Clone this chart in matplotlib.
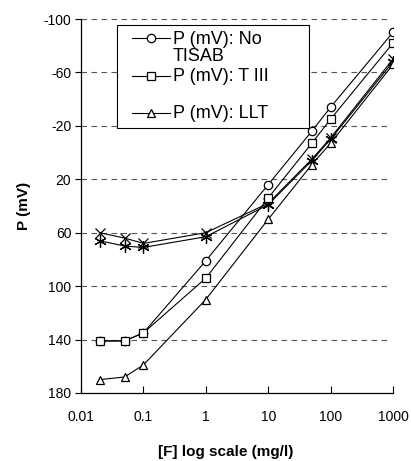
import matplotlib
matplotlib.use("Agg")
import matplotlib.pyplot as plt
from matplotlib.lines import Line2D
from matplotlib.patches import Rectangle

plt.rcParams['font.family'] = ['Liberation Sans', 'DejaVu Sans']

conc = [0.02, 0.05, 0.1, 1, 10, 50, 100, 1000]
p_no_tisab = [141, 141, 135, 81, 24, -16, -34, -90]
p_t3 = [141, 141, 135, 94, 34, -7, -25, -82]
p_llt = [170, 168, 159, 110, 50, 9, -7, -66]
p_s4 = [60, 64, 68, 60, 38, 5, -11, -70]
p_s5 = [66, 70, 71, 63, 39, 6, -10, -68]

labels = ["P (mV): No\nTISAB", "P (mV): T III", "P (mV): LLT"]
yticks = [-100, -60, -20, 20, 60, 100, 140, 180]
xticks = [0.01, 0.1, 1, 10, 100, 1000]
xticklabels = ["0.01", "0.1", "1", "10", "100", "1000"]

fig = plt.figure(figsize=(4.11, 4.61), dpi=100)
ax = fig.add_axes([81/411, 1-393/461, 312/411, 374/461])

lw = 0.8
ms = 6
common = dict(color='black', lw=lw, markerfacecolor='white',
              markeredgecolor='black', markeredgewidth=0.9)
ax.plot(conc, p_s4, marker='x', markersize=7, **common, zorder=3)
ax.plot(conc, p_s5, marker=(6, 2, 0), markersize=9, **common, zorder=3)
ax.plot(conc, p_no_tisab, marker='o', markersize=ms, **common, zorder=4)
ax.plot(conc, p_llt, marker='^', markersize=ms, **common, zorder=4)
ax.plot(conc, p_t3, marker='s', markersize=ms, **common, zorder=5)

ax.set_xscale('log')
ax.set_xlim(0.01, 1000)
ax.set_ylim(180, -100)
ax.set_yticks(yticks)
ax.set_yticklabels([str(v) for v in yticks])
ax.set_xticks(xticks)
ax.set_xticklabels(xticklabels)
ax.minorticks_off()
ax.tick_params(axis='y', direction='out', length=4, width=0.8, labelsize=10, pad=3)
ax.tick_params(axis='x', direction='in', length=5, width=0.8, labelsize=10, pad=12)

for v in yticks[:-1]:
    ax.axhline(v, color='#555555', lw=0.8, ls=(0, (5, 4)), zorder=1, xmax=0.985)

for s in ['top', 'right']:
    ax.spines[s].set_visible(False)
for s in ['left', 'bottom']:
    ax.spines[s].set_linewidth(0.9)
    ax.spines[s].set_color('black')

fig.text(226/411, 1-452/461, "[F] log scale (mg/l)", ha='center', va='center',
         fontsize=11, fontweight='bold')
fig.text(24/411, 1-206/461, "P (mV)", ha='center', va='center', rotation=90,
         fontsize=11, fontweight='bold')

# legend box (manual, to mimic layout)
def ax_x(px):
    return (px - 81) / 312
def ax_y(py):
    return 1 - (py - 19) / 374

ax.add_patch(Rectangle((ax_x(117), ax_y(128)), ax_x(309) - ax_x(117), ax_y(25) - ax_y(128),
                       transform=ax.transAxes, facecolor='white', edgecolor='black',
                       lw=0.8, zorder=6, clip_on=False))
rows = [(38, 48, 'o', labels[0]), (76, 76, 's', labels[1]), (113, 113, '^', labels[2])]
for py, ty, mk, lab in rows:
    ax.add_line(Line2D([ax_x(132), ax_x(170)], [ax_y(py), ax_y(py)], transform=ax.transAxes,
                       color='black', lw=lw, zorder=7, clip_on=False))
    ax.add_line(Line2D([ax_x(151)], [ax_y(py)], transform=ax.transAxes, marker=mk,
                       markersize=ms, markerfacecolor='white', markeredgecolor='black',
                       markeredgewidth=0.9, zorder=8, clip_on=False))
    ax.text(ax_x(173), ax_y(ty), lab, transform=ax.transAxes, ha='left', va='center',
            fontsize=13, zorder=9, linespacing=0.95)

fig.savefig("out.png", dpi=100)
